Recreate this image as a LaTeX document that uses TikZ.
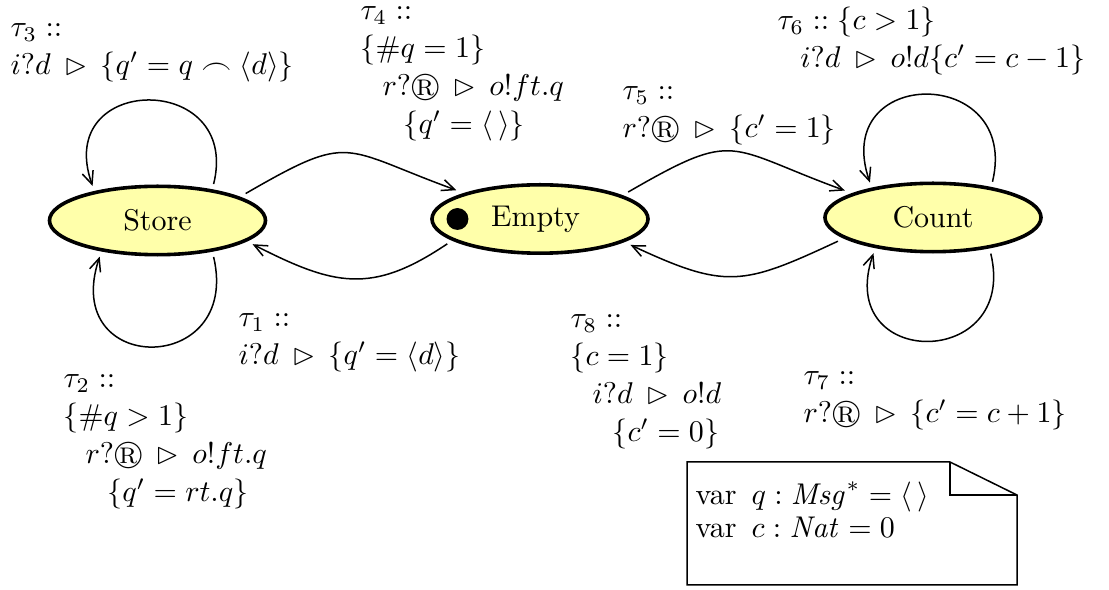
\documentclass[tikz,border=0pt]{standalone}
\usepackage{amsmath, amssymb}
\usepackage{tikz}
\usetikzlibrary{arrows.meta, positioning, shapes.geometric}
\usepackage{xcolor}
\definecolor{StateFill}{HTML}{FFFFAA}
\newcommand{\translabel}[1]{\begin{tabular}[t]{@{}l@{}}#1\end{tabular}}
\newcommand{\trig}{\mathrel{\,\vartriangleright\,}}
\renewcommand{\arraystretch}{1.05}

\begin{document}
\begin{tikzpicture}[x=0.3333pt, y=0.3333pt,
    state/.style={ellipse, draw, line width=1.2pt, fill=StateFill,
      minimum width=72pt, minimum height=22.8pt, inner sep=0pt, outer sep=2.5pt},
    trans/.style={-{Straight Barb[length=4.3pt, width=3.8pt]}, line width=0.5pt},
    lbl/.style={anchor=base west, inner sep=0pt}]
  \useasboundingbox (0,0) rectangle (1109,-590);
  % States
  \node[state] (Store) at (157.5,-220.5) {Store};
  \node[state] (Empty) at (540,-219) {\hspace*{-3pt}Empty};
  \node[state] (Count) at (933,-217.5) {Count};
  \node[circle, fill=black, inner sep=0pt, minimum size=7.3pt] (init) at ([xshift=11pt]Empty.west) {};
  % Transitions between states
  \draw[trans] (Store.17) to[out=30, in=160, looseness=1.5] (Empty.161);
  \draw[trans] (Empty.195) to[out=214, in=-27, looseness=1.2] (Store.-14);
  \draw[trans] (Empty.17) to[out=30, in=160, looseness=1.5] (Count.163);
  \draw[trans] (Count.194) to[out=205, in=-25, looseness=1.3] (Empty.-16);
  % Self loops
  \draw[trans] (Store.33) .. controls +(28,113) and +(-40,113) .. (Store.152);
  \draw[trans] (Store.-33) .. controls +(28,-120) and +(-40,-120) .. (Store.-148);
  \draw[trans] (Count.31) .. controls +(28,117) and +(-40,117) .. (Count.151);
  \draw[trans] (Count.-32) .. controls +(28,-117) and +(-40,-117) .. (Count.-149);
  % Labels
  \node[lbl] (t1) at (238,-327) {\translabel{$\tau_1 ::$\\ $i?d \trig \{q' = \langle d\rangle\}$}};
  \node[lbl] (t2) at (63,-388) {\translabel{$\tau_2 ::$\\ $\{\#q > 1\}$\\
    \hspace*{7.3pt}$r?\circledR \trig o!ft.q$\\ \hspace*{14.6pt}$\{q' = rt.q\}$}};
  \node[lbl] (t3) at (10,-37) {\translabel{$\tau_3 ::$\\ $i?d \trig \{q' = q \frown \langle d\rangle\}$}};
  \node[lbl] (t4) at (360,-20) {\translabel{$\tau_4 ::$\\ $\{\#q = 1\}$\\
    \hspace*{7.3pt}$r?\circledR \trig o!ft.q$\\ \hspace*{14.3pt}$\{q' = \langle\,\rangle\}$}};
  \node[lbl] (t5) at (622,-100) {\translabel{$\tau_5 ::$\\ $r?\circledR \trig \{c' = 1\}$}};
  \node[lbl] (t6) at (777,-30) {\translabel{$\tau_6 :: \{c > 1\}$\\
    \hspace*{7.6pt}$i?d \trig o!d\{c' = c - 1\}$}};
  \node[lbl] (t7) at (803,-385) {\translabel{$\tau_7 ::$\\ $r?\circledR \trig \{c' = c + 1\}$}};
  \node[lbl] (t8) at (570,-328) {\translabel{$\tau_8 ::$\\ $\{c = 1\}$\\
    \hspace*{7.3pt}$i?d \trig o!d$\\ \hspace*{14pt}$\{c' = 0\}$}};
  % Variables note
  \draw[line width=0.5pt] (687,-462) -- (950,-462) -- (1017,-495) -- (1017,-585) -- (687,-585) -- cycle;
  \draw[line width=0.5pt] (950,-462) -- (950,-495) -- (1017,-495);
  \node[lbl] (vars) at (695,-505) {\renewcommand{\arraystretch}{0.9}%
    \translabel{var\enspace$q : \mathit{Msg}^* = \langle\,\rangle$\\ var\enspace$c : \mathit{Nat} = 0$}};
\end{tikzpicture}
\end{document}
